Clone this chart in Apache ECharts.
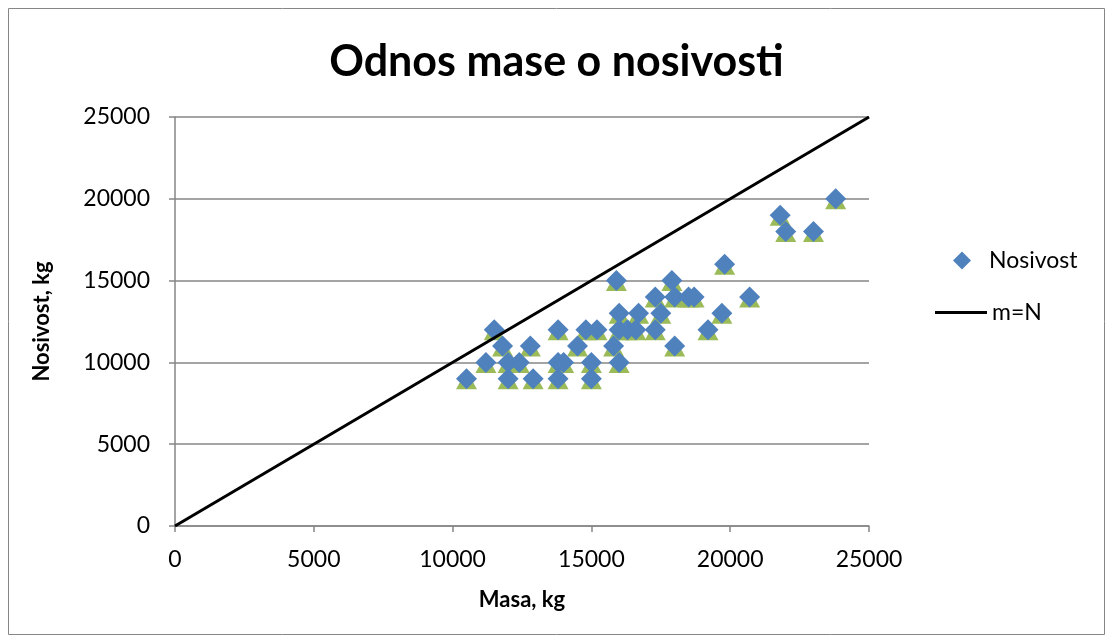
<!DOCTYPE html>
<html>
<head>
<meta charset="utf-8">
<script src="https://cdn.jsdelivr.net/npm/echarts@6/dist/echarts.min.js"></script>
<style>
html, body { margin: 0; padding: 0; background: #fff; }
#main { width: 1113px; height: 643px; }
</style>
</head>
<body>
<div id="main"></div>
<script>
// --- podaci ---
var masa = [10500, 11200, 11500, 11800, 12800, 12000, 12400, 12000, 12900, 13800,
	13800, 14000, 13800, 14500, 14800, 15200, 15000, 15000, 15900, 17900,
	19800, 17300, 18000, 18500, 18700, 16000, 16700, 17500, 19700, 16000,
	16300, 16600, 17300, 19200, 15800, 18000, 16000, 23800, 21800, 22000,
	23000, 20700];
var nosivost = [9000, 10000, 12000, 11000, 11000, 10000, 10000, 9000, 9000, 12000,
	10000, 10000, 9000, 11000, 12000, 12000, 10000, 9000, 15000, 15000,
	16000, 14000, 14000, 14000, 14000, 13000, 13000, 13000, 13000, 12000,
	12000, 12000, 12000, 12000, 11000, 11000, 10000, 20000, 19000, 18000,
	18000, 14000];
var linija = [[0, 0], [25000, 25000]];
var xTicks = [0, 5000, 10000, 15000, 20000, 25000];
var yTicks = [0, 5000, 10000, 15000, 20000, 25000];

var tocke = [];
for (var i = 0; i < masa.length; i++) {
	tocke.push([masa[i], nosivost[i]]);
}

var font = "Lato, 'Open Sans', sans-serif";
var sivo = "#868686";

// bez separatora tisucica
function broj(v) {
	return String(v);
}

var myChart = echarts.init(document.getElementById('main'));
myChart.setOption({
	animation: false,
	textStyle: { fontFamily: font },
	title: {
		text: 'Odnos mase o nosivosti',
		left: 'center',
		top: 36,
		textStyle: {
			fontSize: 43,
			fontWeight: 'bold',
			color: '#000',
			fontFamily: font
		}
	},
	graphic: [{
		type: 'rect',
		shape: { x: 8.5, y: 8.5, width: 1096, height: 626 },
		style: { fill: 'none', stroke: sivo, lineWidth: 1 },
		silent: true
	}],
	legend: [{
		data: ['Nosivost'],
		left: 948,
		top: 244,
		icon: 'diamond',
		itemWidth: 18,
		itemHeight: 18,
		textStyle: { fontSize: 23, color: '#000', fontFamily: font, padding: [0, 0, 0, 13] }
	}, {
		data: ['m=N'],
		left: 930,
		top: 296,
		icon: 'rect',
		itemWidth: 52,
		itemHeight: 3,
		textStyle: { fontSize: 23, color: '#000', fontFamily: font }
	}],
	grid: {
		left: 175,
		top: 117,
		right: 244,
		bottom: 117
	},
	xAxis: {
		type: 'value',
		min: xTicks[0],
		max: xTicks[xTicks.length - 1],
		interval: 5000,
		name: 'Masa, kg',
		nameLocation: 'middle',
		nameGap: 63,
		nameTextStyle: { fontSize: 22, fontWeight: 'bold', color: '#000', fontFamily: font },
		axisLine: { lineStyle: { color: sivo, width: 1.5 } },
		axisTick: { show: true, length: 6, lineStyle: { color: sivo, width: 1.5 } },
		axisLabel: { fontSize: 23, color: '#000', margin: 22, fontFamily: font, formatter: broj },
		splitLine: { show: false }
	},
	yAxis: {
		type: 'value',
		min: yTicks[0],
		max: yTicks[yTicks.length - 1],
		interval: 5000,
		name: 'Nosivost, kg',
		nameLocation: 'middle',
		nameGap: 122,
		nameRotate: 90,
		nameTextStyle: { fontSize: 22, fontWeight: 'bold', color: '#000', fontFamily: font },
		axisLine: { show: true, lineStyle: { color: sivo, width: 1.5 } },
		axisTick: { show: true, length: 6, lineStyle: { color: sivo, width: 1.5 } },
		axisLabel: { fontSize: 23, color: '#000', margin: 25, fontFamily: font, formatter: broj },
		splitLine: { show: true, lineStyle: { color: sivo, width: 1.5 } }
	},
	series: [
		{
			name: 'sjena',
			type: 'scatter',
			data: tocke,
			symbol: 'triangle',
			symbolSize: [21, 19],
			symbolOffset: [0, 1],
			itemStyle: { color: '#9BBB59', opacity: 1 },
			z: 2
		},
		{
			name: 'Nosivost',
			type: 'scatter',
			data: tocke,
			symbol: 'diamond',
			symbolSize: [21, 21],
			itemStyle: { color: '#4F81BD', opacity: 1 },
			z: 3
		},
		{
			name: 'm=N',
			type: 'line',
			data: linija,
			showSymbol: false,
			symbol: 'none',
			lineStyle: { color: '#000', width: 3 },
			itemStyle: { color: '#000' },
			z: 4
		}
	]
});
</script>
</body>
</html>
